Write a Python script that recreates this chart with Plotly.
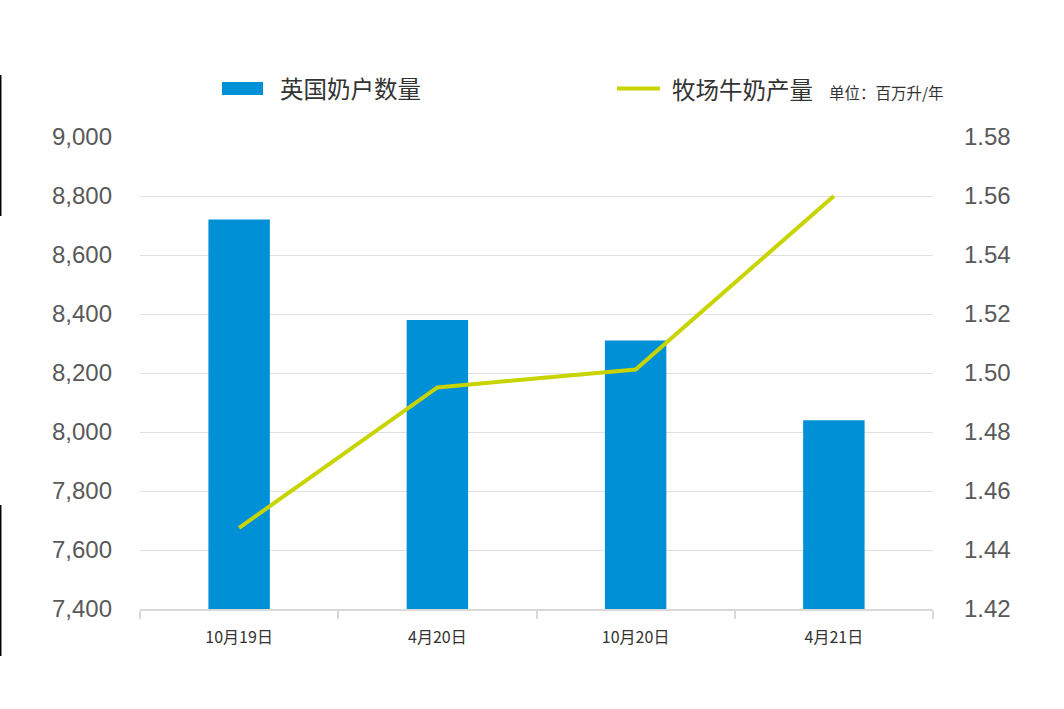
import plotly.graph_objects as go

# data
periods = ["10月19日", "4月20日", "10月20日", "4月21日"]
dairy_farms = [8720, 8380, 8310, 8040]
milk_per_farm = [1.4475, 1.4951, 1.5012, 1.56]

BAR_COLOR = "#0090D5"
LINE_COLOR = "#C8D400"
GRID = "#E0E0E0"
TICK_FONT = dict(family="Liberation Sans, Arial", size=24, color="#595959")
CJK = "Noto Sans CJK SC"

W, H = 1064, 709
L, R, T, B = 140, 131, 137, 100


def px(x):
    return (x - L) / (W - L - R)


def py(y):
    return (H - B - y) / (H - T - B)


fig = go.Figure()

fig.add_trace(go.Bar(x=periods, y=dairy_farms, name="英国奶户数量",
                     marker=dict(color=BAR_COLOR, line=dict(width=0)),
                     yaxis="y"))

fig.add_trace(go.Scatter(x=periods, y=milk_per_farm, name="牧场牛奶产量",
                         mode="lines",
                         line=dict(color=LINE_COLOR, width=4),
                         yaxis="y2"))

shapes = [
    # legend swatches
    dict(type="rect", xref="paper", yref="paper",
         x0=px(222), x1=px(263), y0=py(95), y1=py(82),
         fillcolor=BAR_COLOR, line=dict(width=0)),
    dict(type="line", xref="paper", yref="paper",
         x0=px(617), x1=px(660), y0=py(88.5), y1=py(88.5),
         line=dict(color=LINE_COLOR, width=4)),
    # black edge marks on the left border
    dict(type="line", xref="paper", yref="paper",
         x0=px(0.7), x1=px(0.7), y0=py(75), y1=py(216),
         line=dict(color="black", width=1.5)),
    dict(type="line", xref="paper", yref="paper",
         x0=px(0.7), x1=px(0.7), y0=py(505), y1=py(656),
         line=dict(color="black", width=1.5)),
]

annotations = [
    dict(text="英国奶户数量", xref="paper", yref="paper",
         x=px(278), y=py(88), xanchor="left", yanchor="middle", showarrow=False,
         font=dict(family=CJK, size=23.5, color="#333333")),
    dict(text="牧场牛奶产量", xref="paper", yref="paper",
         x=px(670), y=py(89), xanchor="left", yanchor="middle", showarrow=False,
         font=dict(family=CJK, size=23.5, color="#333333")),
    dict(text="单位：百万升/年", xref="paper", yref="paper",
         x=px(827), y=py(92), xanchor="left", yanchor="middle", showarrow=False,
         font=dict(family=CJK, size=15.5, color="#333333")),
]

fig.update_layout(
    width=W, height=H,
    margin=dict(l=L, r=R, t=T, b=B),
    paper_bgcolor="white",
    plot_bgcolor="white",
    showlegend=False,
    bargap=0.69,
    shapes=shapes,
    annotations=annotations,
    xaxis=dict(
        type="category",
        showline=True, linecolor="#D9D9D9", linewidth=2,
        ticks="outside", tickson="boundaries", ticklen=8,
        tickcolor="#D9D9D9", tickwidth=1.5,
        tickfont=dict(family=CJK, size=16, color="#333333"),
        ticklabelstandoff=13,
        showgrid=False,
    ),
    yaxis=dict(
        range=[7400, 9000], dtick=200, tickformat=",",
        showgrid=True, gridcolor=GRID, gridwidth=1,
        zeroline=False, showline=False,
        tickfont=TICK_FONT, ticklabelstandoff=27,
    ),
    yaxis2=dict(
        range=[1.42, 1.58], dtick=0.02, tickformat=".2f",
        overlaying="y", side="right",
        showgrid=False, zeroline=False, showline=False,
        tickfont=TICK_FONT, ticklabelstandoff=30,
    ),
)

# page body has a default 8px margin; drop it so the figure sits at 0,0
fig.write_html("out.html", config={"displayModeBar": False},
               post_script="document.body.style.margin='0';")
